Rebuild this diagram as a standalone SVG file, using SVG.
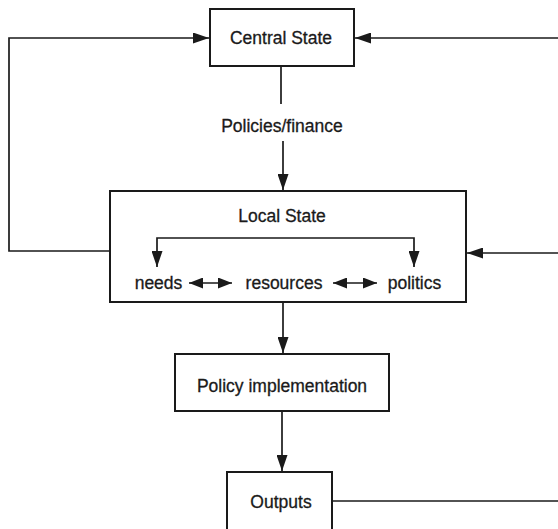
<svg xmlns="http://www.w3.org/2000/svg" width="558" height="529" viewBox="0 0 558 529">
<style>
.box{fill:#fff;stroke:#1a1a1a;stroke-width:2}
.ln{fill:none;stroke:#1a1a1a;stroke-width:1.7}
text{font-family:"Liberation Sans",Arial,Helvetica,sans-serif;font-size:17.5px;fill:#1a1a1a;stroke:#1a1a1a;stroke-width:0.3;text-anchor:middle}
</style>
<defs>
<marker id="ah" viewBox="0 0 16 11" refX="16" refY="5.5" markerWidth="16" markerHeight="11" markerUnits="userSpaceOnUse" orient="auto-start-reverse">
<path d="M0,0 L16,5.5 L0,11 z" fill="#1a1a1a"/>
</marker>
<marker id="dh" viewBox="0 0 14 11" refX="14" refY="5.5" markerWidth="14" markerHeight="11" markerUnits="userSpaceOnUse" orient="auto-start-reverse">
<path d="M0,0 L14,5.5 L0,11 z" fill="#1a1a1a"/>
</marker>
</defs>
<rect width="558" height="529" fill="#fff"/>
<g id="central-state">
<rect class="box" x="210" y="9" width="144" height="57"/>
<text x="281" y="44">Central State</text>
</g>
<g id="policies-finance">
<text x="282" y="132">Policies/finance</text>
</g>
<g id="local-state">
<rect class="box" x="110" y="191" width="356" height="111"/>
<text x="282" y="222">Local State</text>
</g>
<g id="needs">
<text x="158.5" y="289">needs</text>
</g>
<g id="resources">
<text x="284" y="289">resources</text>
</g>
<g id="politics">
<text x="414.5" y="289">politics</text>
</g>
<g id="policy-implementation">
<rect class="box" x="175" y="354" width="214" height="57"/>
<text x="282" y="392">Policy implementation</text>
</g>
<g id="outputs">
<rect class="box" x="227" y="472" width="105" height="70"/>
<text x="281" y="508">Outputs</text>
</g>
<g id="connectors">
<polyline class="ln" points="110,251 9,251 9,38 209,38" marker-end="url(#ah)"/>
<line class="ln" x1="558" y1="38" x2="355" y2="38" marker-end="url(#ah)"/>
<line class="ln" x1="281" y1="67" x2="281" y2="104"/>
<line class="ln" x1="283" y1="141" x2="283" y2="190" marker-end="url(#ah)"/>
<line class="ln" x1="558" y1="253" x2="467" y2="253" marker-end="url(#ah)"/>
<line class="ln" x1="283" y1="303" x2="283" y2="353" marker-end="url(#ah)"/>
<line class="ln" x1="282" y1="412" x2="282" y2="471" marker-end="url(#ah)"/>
<line class="ln" x1="333" y1="501" x2="558" y2="501"/>
<polyline class="ln" points="157,267 157,238 414,238 414,267" marker-start="url(#ah)" marker-end="url(#ah)"/>
<line class="ln" x1="189" y1="283" x2="232" y2="283" marker-start="url(#dh)" marker-end="url(#dh)"/>
<line class="ln" x1="333" y1="283" x2="377" y2="283" marker-start="url(#dh)" marker-end="url(#dh)"/>
</g>
</svg>
